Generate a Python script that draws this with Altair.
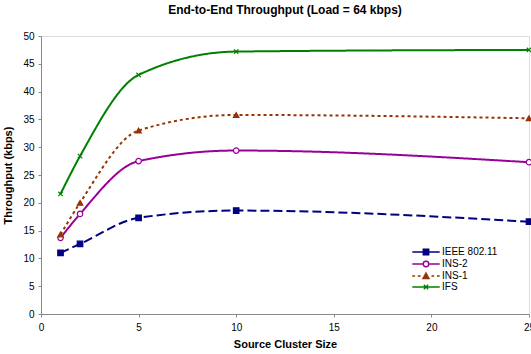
import altair as alt
import pandas as pd

x_vals = [1, 2, 5, 10, 25]
series_names = ["IEEE 802.11", "INS-2", "INS-1", "IFS"]
ieee = [11.0, 12.6, 17.3, 18.6, 16.6]
ins2 = [13.7, 18.0, 27.5, 29.4, 27.3]
ins1 = [14.3, 20.0, 33.0, 35.8, 35.2]
ifs = [21.6, 28.4, 43.0, 47.2, 47.5]

colors = ["#000080", "#990099", "#993300", "#008000"]
fills = ["#000080", "#ffffff", "#993300", "#008000"]
shapes = ["square", "circle", "triangle-up", "M-0.8,-0.8L0.8,0.8M0.8,-0.8L-0.8,0.8"]
dashes = [[9, 4], [1, 0], [3, 3], [1, 0]]

# legend symbols: line segment + marker (unit = half marker size)
legend_paths = [
    "M-5,0L-1,0M1,0L5,0M-1,-1L1,-1L1,1L-1,1Z",
    "M-5,0L-1,0M1,0L5,0M1,0A1,1 0 1,1 -1,0A1,1 0 1,1 1,0Z",
    "M-5,0L-4,0M-3,0L-2,0M2,0L3,0M4,0L5,0M0,-1.1L1.1,0.9L-1.1,0.9Z",
    "M-5,0L5,0M-0.8,-0.8L0.8,0.8M0.8,-0.8L-0.8,0.8",
]

rows = []
for name, vals in zip(series_names, [ieee, ins2, ins1, ifs]):
    for xv, yv in zip(x_vals, vals):
        rows.append({"x": xv, "y": yv, "series": name})
df = pd.DataFrame(rows)

FONT = "Liberation Sans"

xenc = alt.X("x:Q", scale=alt.Scale(domain=[0, 25], nice=False),
             axis=alt.Axis(values=[0, 5, 10, 15, 20, 25], title="Source Cluster Size",
                           grid=False, tickSize=3, labelPadding=5, titlePadding=6,
                           labelFlush=False))
yenc = alt.Y("y:Q", scale=alt.Scale(domain=[0, 50], nice=False),
             axis=alt.Axis(values=list(range(0, 51, 5)), title="Throughput (kbps)",
                           grid=False, tickSize=3, labelPadding=4, titlePadding=9,
                           labelFlush=False))

layers = []
for name, c, f, s, d in zip(series_names, colors, fills, shapes, dashes):
    base = alt.Chart(df).transform_filter(alt.datum.series == name)
    layers.append(
        base.mark_line(interpolate="monotone", strokeWidth=2, color=c, strokeDash=d)
        .encode(x=xenc, y=yenc)
    )
    layers.append(
        base.mark_point(size=30, strokeWidth=1.2, opacity=1, shape=s, color=c, fill=f, filled=False)
        .encode(x=xenc, y=yenc)
    )

legend_layer = alt.Chart(df).transform_filter("datum.x < 0").mark_point(
    opacity=1, strokeWidth=1.4
).encode(
    x=xenc, y=yenc,
    color=alt.Color("series:N", scale=alt.Scale(domain=series_names, range=colors),
                    sort=series_names, title=None,
                    legend=alt.Legend(orient="none", legendX=380, legendY=211,
                                      labelFont=FONT, labelFontSize=10, symbolSize=30,
                                      symbolStrokeWidth=1.4, symbolOpacity=1,
                                      rowPadding=0, labelColor="#000000", labelOffset=11)),
    fill=alt.Fill("series:N", scale=alt.Scale(domain=series_names, range=fills),
                  sort=series_names, title=None),
    shape=alt.Shape("series:N", scale=alt.Scale(domain=series_names, range=legend_paths),
                    sort=series_names, title=None),
)

chart = alt.layer(*layers, legend_layer).properties(
    width=488, height=278,
    title=alt.TitleParams("End-to-End Throughput (Load = 64 kbps)", font=FONT, fontSize=12,
                          fontWeight="bold", color="#000000", anchor="middle", offset=14),
    autosize=alt.AutoSizeParams(type="none"),
    padding={"left": 41, "top": 36, "right": 2, "bottom": 40},
).configure_view(stroke=None).configure_axis(
    labelFont=FONT, labelFontSize=11, labelColor="#000000",
    titleFont=FONT, titleFontSize=11, titleFontWeight="bold", titleColor="#000000",
    domainColor="#333333", tickColor="#333333", domainWidth=1,
).configure(background="white")

chart.save("out.html", embed_options={"renderer": "svg", "actions": False})
